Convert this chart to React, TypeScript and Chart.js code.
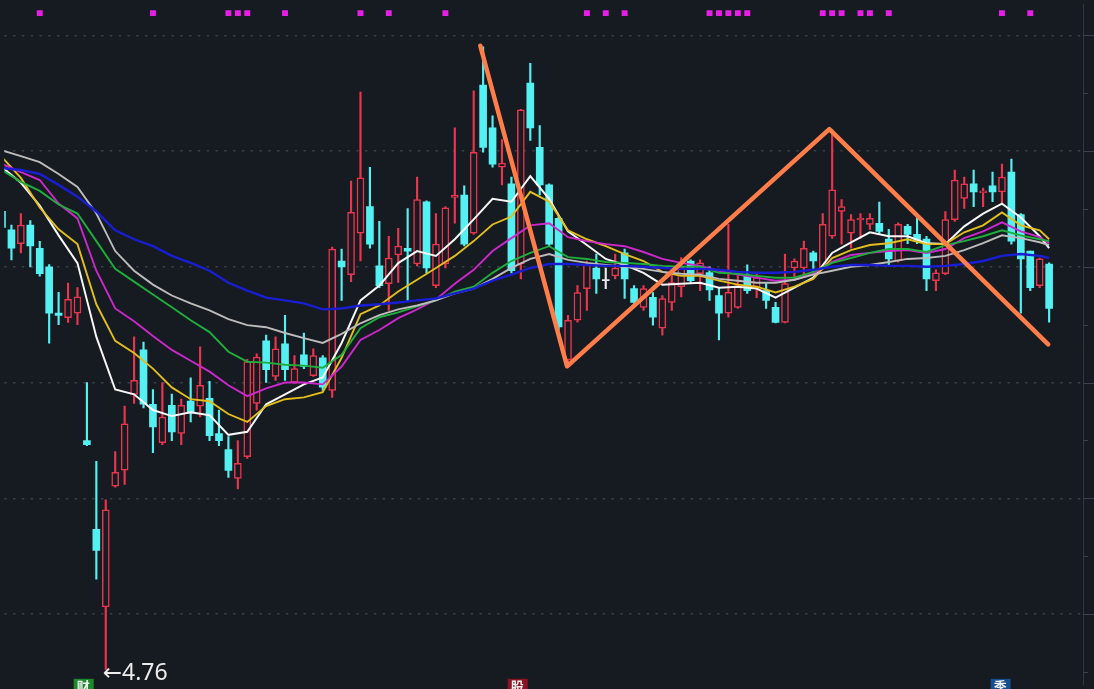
import React, { useEffect, useRef } from "react";
import { Chart, registerables } from "chart.js";

Chart.register(...registerables);

// ---------- data ----------
const opens = [6.74, 6.66, 6.60, 6.68, 6.58, 6.50, 6.30, 6.28, 6.30, 5.749,
  5.366, 5.031, 5.552, 5.621, 5.949, 6.141, 5.906, 5.74, 5.902, 5.78,
  5.92, 5.898, 5.932, 5.779, 5.71, 5.586, 5.68, 5.91, 6.18, 6.026,
  6.167, 6.0, 6.12, 6.03, 6.107, 5.966, 6.525, 6.466, 6.645, 6.76,
  6.504, 6.427, 6.551, 6.58, 6.512, 6.781, 6.419, 6.512, 6.80, 6.81,
  6.645, 7.285, 7.10, 6.93, 6.858, 6.512, 7.294, 7.016, 6.854, 6.709,
  6.098, 6.269, 6.406, 6.495, 6.44, 6.461, 6.56, 6.406, 6.325, 6.368,
  6.235, 6.346, 6.414, 6.525, 6.47, 6.475, 6.376, 6.30, 6.325, 6.461,
  6.41, 6.397, 6.325, 6.26, 6.495, 6.495, 6.56, 6.495, 6.632, 6.739,
  6.645, 6.703, 6.683, 6.688, 6.62, 6.525, 6.675, 6.64, 6.62, 6.44,
  6.47, 6.704, 6.795, 6.858, 6.82, 6.85, 6.824, 6.909, 6.726, 6.568,
  6.419, 6.512];
const highs = [6.76, 6.68, 6.73, 6.70, 6.61, 6.51, 6.39, 6.43, 6.41, 6.00,
  5.659, 5.493, 5.702, 5.898, 6.197, 6.175, 5.97, 6.00, 5.95, 5.928,
  6.02, 6.154, 6.005, 5.881, 5.766, 5.749, 6.10, 6.124, 6.205, 6.197,
  6.29, 6.116, 6.214, 6.146, 6.116, 6.585, 6.577, 6.87, 7.255, 6.93,
  6.696, 6.632, 6.666, 6.752, 6.888, 6.785, 6.73, 6.76, 7.10, 6.85,
  7.26, 7.45, 7.152, 7.05, 6.888, 7.18, 7.379, 7.11, 6.858, 6.717,
  6.29, 6.419, 6.525, 6.555, 6.495, 6.555, 6.577, 6.419, 6.419, 6.389,
  6.376, 6.495, 6.54, 6.53, 6.53, 6.50, 6.41, 6.683, 6.47, 6.508,
  6.47, 6.427, 6.346, 6.555, 6.534, 6.611, 6.568, 6.73, 7.093, 6.79,
  6.726, 6.73, 6.73, 6.78, 6.662, 6.69, 6.683, 6.709, 6.632, 6.487,
  6.739, 6.918, 6.888, 6.918, 6.84, 6.909, 6.944, 6.965, 6.73, 6.568,
  6.538, 6.517];
const lows = [6.64, 6.53, 6.56, 6.50, 6.46, 6.17, 6.25, 6.26, 6.25, 5.727,
  5.150, 4.76, 5.548, 5.56, 5.91, 5.89, 5.697, 5.732, 5.749, 5.732,
  5.83, 5.851, 5.749, 5.727, 5.59, 5.54, 5.672, 5.881, 6.0, 6.009,
  6.009, 5.996, 6.06, 6.026, 5.966, 5.936, 6.355, 6.436, 6.525, 6.58,
  6.41, 6.312, 6.432, 6.355, 6.504, 6.474, 6.41, 6.495, 6.688, 6.59,
  6.64, 6.995, 6.93, 6.854, 6.474, 6.448, 7.046, 6.811, 6.59, 6.226,
  6.086, 6.261, 6.312, 6.385, 6.406, 6.448, 6.363, 6.342, 6.312, 6.248,
  6.205, 6.312, 6.37, 6.43, 6.397, 6.355, 6.184, 6.282, 6.32, 6.385,
  6.367, 6.32, 6.257, 6.257, 6.44, 6.461, 6.474, 6.49, 6.623, 6.598,
  6.58, 6.623, 6.662, 6.64, 6.504, 6.52, 6.60, 6.60, 6.397, 6.397,
  6.466, 6.696, 6.752, 6.76, 6.76, 6.781, 6.773, 6.598, 6.30, 6.397,
  6.41, 6.261];
const closes = [6.67, 6.58, 6.68, 6.59, 6.47, 6.30, 6.29, 6.36, 6.37, 5.732,
  5.275, 5.450, 5.612, 5.822, 6.009, 5.906, 5.808, 5.851, 5.787, 5.902,
  5.868, 5.988, 5.77, 5.749, 5.62, 5.651, 6.09, 6.11, 6.056, 6.146,
  6.056, 6.06, 6.07, 6.116, 5.98, 6.577, 6.50, 6.735, 6.884, 6.598,
  6.419, 6.538, 6.59, 6.568, 6.79, 6.495, 6.598, 6.755, 6.81, 6.598,
  6.995, 7.016, 6.943, 6.948, 6.483, 7.178, 7.10, 6.854, 6.598, 6.24,
  6.269, 6.389, 6.512, 6.448, 6.44, 6.495, 6.448, 6.346, 6.406, 6.282,
  6.363, 6.432, 6.50, 6.44, 6.517, 6.40, 6.30, 6.39, 6.419, 6.397,
  6.453, 6.355, 6.26, 6.427, 6.525, 6.58, 6.525, 6.683, 6.833, 6.76,
  6.704, 6.71, 6.709, 6.653, 6.534, 6.683, 6.64, 6.611, 6.448, 6.474,
  6.704, 6.875, 6.858, 6.824, 6.828, 6.824, 6.888, 6.611, 6.534, 6.41,
  6.534, 6.32];

// moving-average lines, read at these candle positions
const maIndex = [0, 2, 4, 6, 8, 10, 12, 14, 16, 18, 20, 22, 24, 26, 28, 30, 32, 34, 36, 38,
  40, 42, 44, 46, 48, 50, 52, 54, 56, 58, 60, 62, 64, 66, 68, 70, 72, 74, 76, 78,
  80, 82, 84, 86, 88, 90, 92, 94, 96, 98, 100, 102, 104, 106, 108, 110, 111];
const maWhite = [6.931, 6.863, 6.764, 6.636, 6.516, 6.197, 5.970, 5.949, 5.881, 5.855,
  5.872, 5.859, 5.774, 5.787, 5.906, 5.949, 5.992, 6.022, 6.171, 6.355,
  6.419, 6.516, 6.568, 6.547, 6.619, 6.705, 6.794, 6.781, 6.892, 6.794,
  6.653, 6.594, 6.534, 6.508, 6.474, 6.423, 6.427, 6.431, 6.410, 6.414,
  6.406, 6.367, 6.410, 6.453, 6.560, 6.606, 6.649, 6.632, 6.632, 6.602,
  6.598, 6.675, 6.730, 6.773, 6.713, 6.632, 6.581];
const maYellow = [6.974, 6.884, 6.756, 6.662, 6.598, 6.338, 6.180, 6.128, 6.060, 5.979,
  5.928, 5.919, 5.864, 5.830, 5.898, 5.928, 5.936, 5.958, 6.107, 6.295,
  6.333, 6.393, 6.444, 6.495, 6.547, 6.611, 6.683, 6.717, 6.824, 6.781,
  6.658, 6.619, 6.589, 6.555, 6.525, 6.478, 6.461, 6.461, 6.440, 6.423,
  6.414, 6.389, 6.414, 6.448, 6.538, 6.572, 6.594, 6.602, 6.619, 6.598,
  6.598, 6.649, 6.679, 6.735, 6.679, 6.658, 6.619];
const maMagenta = [6.944, 6.909, 6.875, 6.773, 6.709, 6.483, 6.320, 6.265, 6.201, 6.141,
  6.094, 6.047, 5.988, 5.941, 5.975, 6.000, 6.000, 5.992, 6.069, 6.184,
  6.227, 6.278, 6.316, 6.359, 6.427, 6.487, 6.568, 6.624, 6.679, 6.688,
  6.628, 6.611, 6.598, 6.589, 6.564, 6.534, 6.517, 6.504, 6.483, 6.466,
  6.453, 6.440, 6.444, 6.470, 6.521, 6.551, 6.560, 6.568, 6.572, 6.560,
  6.577, 6.624, 6.653, 6.692, 6.653, 6.628, 6.602];
const maGreen = [6.918, 6.867, 6.828, 6.769, 6.730, 6.611, 6.491, 6.436, 6.380, 6.325,
  6.269, 6.218, 6.133, 6.090, 6.086, 6.077, 6.073, 6.064, 6.120, 6.235,
  6.282, 6.303, 6.329, 6.355, 6.393, 6.414, 6.474, 6.525, 6.560, 6.589,
  6.542, 6.534, 6.521, 6.517, 6.512, 6.504, 6.500, 6.500, 6.474, 6.470,
  6.461, 6.453, 6.453, 6.478, 6.517, 6.538, 6.560, 6.577, 6.577, 6.564,
  6.594, 6.611, 6.632, 6.658, 6.636, 6.619, 6.611];
const maGrey = [7.003, 6.978, 6.952, 6.901, 6.845, 6.730, 6.568, 6.483, 6.423, 6.376,
  6.342, 6.312, 6.274, 6.248, 6.239, 6.214, 6.192, 6.171, 6.210, 6.256,
  6.291, 6.316, 6.333, 6.355, 6.385, 6.406, 6.448, 6.495, 6.534, 6.555,
  6.530, 6.517, 6.508, 6.500, 6.491, 6.478, 6.470, 6.466, 6.448, 6.440,
  6.431, 6.431, 6.444, 6.466, 6.483, 6.500, 6.508, 6.521, 6.534, 6.538,
  6.547, 6.572, 6.602, 6.636, 6.624, 6.606, 6.594];
const maBlue = [6.927, 6.918, 6.901, 6.854, 6.803, 6.739, 6.658, 6.619, 6.589, 6.547,
  6.517, 6.483, 6.431, 6.397, 6.367, 6.355, 6.342, 6.316, 6.320, 6.333,
  6.338, 6.346, 6.355, 6.363, 6.385, 6.406, 6.440, 6.466, 6.495, 6.512,
  6.512, 6.508, 6.504, 6.504, 6.500, 6.495, 6.491, 6.491, 6.487, 6.478,
  6.474, 6.474, 6.478, 6.487, 6.500, 6.508, 6.508, 6.504, 6.504, 6.500,
  6.504, 6.512, 6.525, 6.547, 6.555, 6.547, 6.538];

// hand-drawn zigzag (candle position, price)
const zigzagIndex = [50.7, 59.9, 87.7, 110.9];
const zigzagPrice = [7.455, 6.07, 7.095, 6.165];

// signal markers along the top row
const signalIndex = [4, 16, 24, 25, 26, 30, 38, 41, 47, 62, 64, 66, 75, 76, 77, 78, 79,
  87, 88, 89, 91, 92, 94, 106, 109];
const signalPrice = 7.596;

// price scale ticks
const yTicks = [4.75, 5.0, 5.25, 5.5, 5.75, 6.0, 6.25, 6.5, 6.75, 7.0, 7.25, 7.5];

// lowest-price note
const lowText = "←4.76";
const lowIndex = 11;
const lowPrice = 4.76;

// bottom tags
const tagIndex = [7.6, 53.6, 104.8];
const tagText = ["财", "股", "季"];
const tagColor = ["#1c8a2c", "#8c1422", "#174e8c"];

// ---------- styles ----------
const BG = "#161a21";
const RED = "#e8364e";
const CYAN = "#54f0f2";
const FLAT = "#e8e8e8";
const GRID = "#3a3e47";

export default function App() {
  const ref = useRef<HTMLCanvasElement | null>(null);

  useEffect(() => {
    const canvas = ref.current;
    if (!canvas) return;

    const colorOf = (i: number) =>
      closes[i] > opens[i] ? RED : closes[i] < opens[i] ? CYAN : FLAT;
    const colors = opens.map((_, i) => colorOf(i));
    const bodyData = opens.map((o, i) => ({ x: i, y: [o, closes[i]] }));
    const wickData = lows.map((l, i) => ({ x: i, y: [l, highs[i]] }));
    const bodyFill = opens.map((_, i) => (closes[i] > opens[i] ? BG : colors[i]));
    const bodyBorder = opens.map((_, i) => (closes[i] > opens[i] ? 1.5 : 0));

    const maLine = (vals: number[], color: string, width: number) => ({
      type: "line" as const,
      data: maIndex.map((x, k) => ({ x, y: vals[k] })),
      borderColor: color,
      borderWidth: width,
      pointRadius: 0,
      tension: 0,
      order: 2,
    });

    const isMajor = (v: number) => Math.abs(v * 2 - Math.round(v * 2)) < 1e-6;

    const overlay = {
      id: "overlay",
      afterDatasetsDraw(chart: any) {
        const c = chart.ctx;
        const xs = chart.scales.x;
        const ys = chart.scales.y;
        const area = chart.chartArea;
        c.save();
        // right axis tick marks
        c.strokeStyle = "#3d4149";
        c.lineWidth = 1;
        yTicks.forEach((v) => {
          const y = Math.round(ys.getPixelForValue(v)) + 0.5;
          c.beginPath();
          c.moveTo(area.right, y);
          c.lineTo(area.right + (isMajor(v) ? 11 : 5), y);
          c.stroke();
        });
        // low label
        c.fillStyle = "#ececec";
        c.font = '23px "Noto Sans", "DejaVu Sans", sans-serif';
        c.textBaseline = "alphabetic";
        c.textAlign = "left";
        c.fillText(lowText, xs.getPixelForValue(lowIndex) - 3, ys.getPixelForValue(lowPrice) + 10);
        // bottom tags
        c.font = 'bold 13px "Noto Sans CJK SC", sans-serif';
        c.textBaseline = "top";
        tagIndex.forEach((ti, k) => {
          const x = xs.getPixelForValue(ti);
          c.fillStyle = tagColor[k];
          c.fillRect(x, area.bottom - 6, 20, 12);
          c.fillStyle = "#f0f0f0";
          c.fillText(tagText[k], x + 3, area.bottom - 5);
        });
        c.restore();
      },
    };

    const chart = new Chart(canvas, {
      type: "bar",
      data: {
        datasets: [
          {
            type: "line",
            data: zigzagIndex.map((x, k) => ({ x, y: zigzagPrice[k] })),
            borderColor: "#ff7d48",
            borderWidth: 4.5,
            borderCapStyle: "round",
            borderJoinStyle: "round",
            pointRadius: 0,
            tension: 0,
            order: 0,
          } as any,
          {
            type: "line",
            data: signalIndex.map((x) => ({ x, y: signalPrice })),
            showLine: false,
            pointStyle: "rect",
            pointRadius: 4.2,
            pointBackgroundColor: "#e61ee6",
            pointBorderWidth: 0,
            order: 0,
          } as any,
          maLine(maBlue, "#1a1ed2", 2.4),
          maLine(maGrey, "#bcbcbc", 1.9),
          maLine(maGreen, "#1fae3c", 1.9),
          maLine(maMagenta, "#cc28cc", 1.9),
          maLine(maYellow, "#e2be1c", 1.9),
          maLine(maWhite, "#f6f6f6", 2),
          {
            type: "bar",
            data: bodyData,
            backgroundColor: bodyFill,
            borderColor: colors,
            borderWidth: bodyBorder,
            borderSkipped: false,
            barThickness: 7,
            minBarLength: 1,
            grouped: false,
            order: 3,
          } as any,
          {
            type: "bar",
            data: wickData,
            backgroundColor: colors,
            borderWidth: 0,
            barThickness: 1.5,
            grouped: false,
            order: 4,
          } as any,
        ],
      },
      options: {
        responsive: false,
        animation: false,
        devicePixelRatio: 1,
        events: [],
        layout: { padding: 0 },
        plugins: { legend: { display: false }, tooltip: { enabled: false } },
        scales: {
          x: {
            type: "linear",
            display: false,
            offset: false,
            min: 0.2323,
            max: 114.59,
          },
          y: {
            type: "linear",
            position: "right",
            min: 4.694,
            max: 7.6346,
            beginAtZero: false,
            afterBuildTicks: (scale: any) => {
              scale.ticks = yTicks.map((v) => ({ value: v }));
            },
            ticks: { display: false },
            grid: {
              color: (ctx: any) => (ctx.tick && isMajor(ctx.tick.value) ? GRID : "transparent"),
              lineWidth: 1.5,
              drawTicks: true,
              tickLength: 11,
              tickColor: "transparent",
            },
            border: { display: true, color: "#33363e", width: 1, dash: [2.5, 6.3] },
          },
        },
      },
      plugins: [overlay],
    } as any);

    return () => chart.destroy();
  }, []);

  return (
    <div
      style={{
        position: "fixed",
        left: 0,
        top: 0,
        width: 1094,
        height: 689,
        background: BG,
        overflow: "hidden",
      }}
    >
      <canvas ref={ref} width={1094} height={689} style={{ display: "block" }} />
    </div>
  );
}
